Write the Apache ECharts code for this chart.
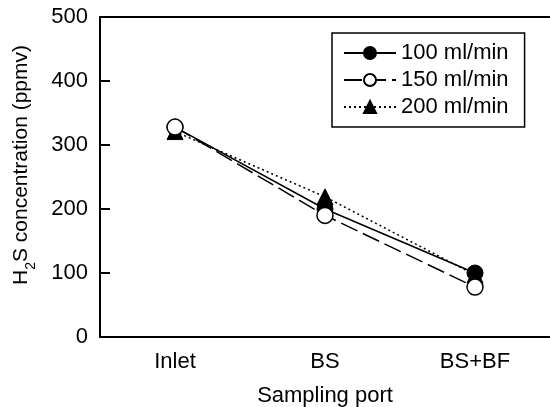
<!DOCTYPE html>
<html>
<head>
<meta charset="utf-8">
<script src="https://cdn.jsdelivr.net/npm/echarts@6/dist/echarts.min.js"></script>
<style>
html,body{margin:0;padding:0;background:#fff;}
#chart{width:550px;height:407px;}
</style>
</head>
<body>
<div id="chart"></div>
<script>
var categories = ['Inlet', 'BS', 'BS+BF'];
var seriesNames = ['100 ml/min', '150 ml/min', '200 ml/min'];
var flow100 = [328, 200, 100];
var flow150 = [328, 190, 78];
var flow200 = [321, 219, 97];
var yTicks = [0, 100, 200, 300, 400, 500];

var FONT = '"Liberation Sans", Arial, sans-serif';
var FS = 22;
var chart = echarts.init(document.getElementById('chart'), null, {renderer: 'canvas'});

var option = {
  animation: false,
  backgroundColor: '#ffffff',
  textStyle: {fontFamily: FONT, color: '#000'},
  grid: {left: 100, right: 0, top: 17, bottom: 70, containLabel: false, outerBoundsMode: 'none'},
  legend: {
    orient: 'vertical',
    left: 332,
    top: 33,
    data: seriesNames,
    itemWidth: 52,
    itemHeight: 15,
    itemGap: 5,
    itemTextGap: 13,
    padding: [9, 16, 9, 11],
    borderColor: '#000',
    borderWidth: 1.5,
    backgroundColor: '#fff',
    textStyle: {fontFamily: FONT, fontSize: FS, color: '#000'}
  },
  xAxis: [{
    type: 'category',
    data: categories,
    boundaryGap: true,
    name: 'Sampling port',
    nameLocation: 'middle',
    nameGap: 48,
    nameTextStyle: {fontFamily: FONT, fontSize: FS, color: '#000'},
    axisLine: {lineStyle: {color: '#000', width: 2}},
    axisTick: {inside: true, alignWithLabel: true, length: 10, lineStyle: {color: '#000', width: 2}},
    axisLabel: {fontFamily: FONT, fontSize: FS, color: '#000', margin: 14},
    splitLine: {show: false}
  }, {
    type: 'category',
    data: categories,
    position: 'top',
    boundaryGap: true,
    axisLine: {show: true, lineStyle: {color: '#000', width: 2}},
    axisTick: {show: false},
    axisLabel: {show: false},
    splitLine: {show: false}
  }],
  yAxis: {
    type: 'value',
    min: yTicks[0],
    max: yTicks[yTicks.length - 1],
    interval: 100,
    name: '{a|H}{s|2}{a|S concentration (ppmv)}',
    nameLocation: 'middle',
    nameGap: 68,
    nameRotate: 90,
    nameTextStyle: {
      fontFamily: FONT, fontSize: 21, color: '#000',
      padding: [0, 0, 0, 24],
      rich: {
        a: {fontFamily: FONT, fontSize: 21, color: '#000', verticalAlign: 'bottom', lineHeight: 26},
        s: {fontFamily: FONT, fontSize: 14, color: '#000', verticalAlign: 'bottom', lineHeight: 26, padding: [0, 0, -6, 0]}
      }
    },
    axisLine: {show: true, lineStyle: {color: '#000', width: 2}},
    axisTick: {show: true, inside: true, length: 10, lineStyle: {color: '#000', width: 2}},
    axisLabel: {fontFamily: FONT, fontSize: FS, color: '#000', margin: 12},
    splitLine: {show: false}
  },
  series: [
    {
      name: seriesNames[0],
      type: 'line',
      data: flow100,
      z: 3,
      symbol: 'circle',
      symbolSize: 16,
      itemStyle: {color: '#000', borderColor: '#000', borderWidth: 1},
      lineStyle: {color: '#000', width: 1.5, type: 'solid'}
    },
    {
      name: seriesNames[1],
      type: 'line',
      data: flow150,
      z: 4,
      symbol: 'circle',
      symbolSize: 16,
      itemStyle: {color: '#fff', borderColor: '#000', borderWidth: 1.5},
      lineStyle: {color: '#000', width: 1.5, type: [18, 6]}
    },
    {
      name: seriesNames[2],
      type: 'line',
      data: flow200,
      z: 2,
      symbol: 'triangle',
      symbolSize: 16,
      itemStyle: {color: '#000', borderColor: '#000', borderWidth: 1},
      lineStyle: {color: '#000', width: 1.5, type: [2, 3]}
    }
  ]
};
chart.setOption(option);
</script>
</body>
</html>
